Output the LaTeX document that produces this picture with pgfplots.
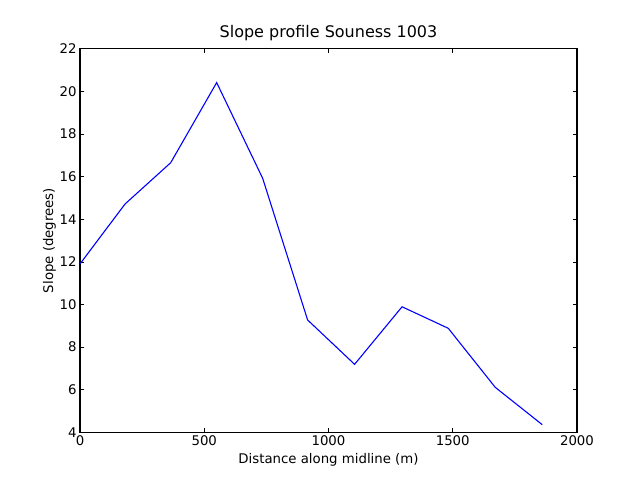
\documentclass[border=0pt]{standalone}
\usepackage{fontspec}
\setmainfont{DejaVu Sans}
\usepackage{pgfplots}
\pgfplotsset{compat=1.18}
\begin{document}
\begin{tikzpicture}[x=1pt,y=1pt]
\useasboundingbox (0,0) rectangle (640,480);
\begin{axis}[
  at={(80pt,47.7pt)}, anchor=south west,
  scale only axis, width=497pt, height=383.6pt,
  xmin=0, xmax=2000, ymin=4, ymax=22,
  xtick={0,500,...,2000}, ytick={4,6,...,22},
  tick align=inside, major tick length=4.4pt,
  tick style={black, line width=0.55pt},
  axis line style={black, line width=1.1pt},
  /pgf/number format/assume math mode=true,
  /pgf/number format/1000 sep={},
  tick label style={font=\fontsize{13.3}{16}\selectfont},
  title={Slope profile Souness 1003},
  title style={at={(axis description cs:0.5,1.0141)}, anchor=base, font=\fontsize{16}{19}\selectfont},
  xlabel={Distance along midline (m)},
  xlabel style={at={(axis description cs:0.5,-0.0808)}, anchor=base, font=\fontsize{13.3}{16}\selectfont},
  ylabel={Slope (degrees)},
  ylabel style={at={(axis description cs:-0.0543,0.5)}, anchor=base, font=\fontsize{13.3}{16}\selectfont},
]
\addplot[color={rgb,255:red,0;green,0;blue,255}, line width=1.1pt, mark=none] coordinates {
(0,11.90) (181,14.71) (365,16.65) (550,20.41) (735,15.92) (916,9.27) (1105,7.19) (1296,9.89) (1482,8.88) (1671,6.11) (1860,4.36)
};
\end{axis}
\end{tikzpicture}
\end{document}
